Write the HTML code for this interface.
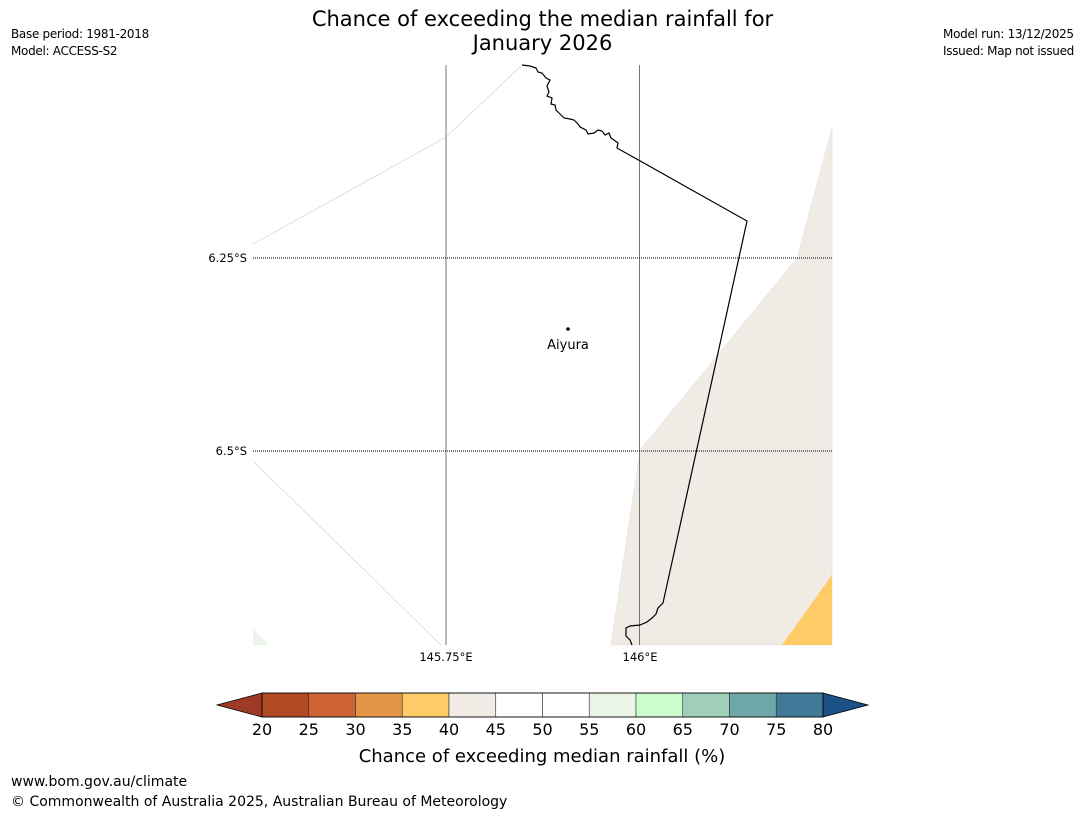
<!DOCTYPE html>
<html><head><meta charset="utf-8">
<style>
body{margin:0;background:#fff;width:1085px;height:816px;overflow:hidden;font-family:"Liberation Sans","DejaVu Sans",sans-serif;}
.t{position:absolute;white-space:nowrap;color:#000}
</style></head>
<body>
<div class="t" style="left:0;width:1085px;top:7px;text-align:center;font-size:21px;line-height:24px;font-family:'DejaVu Sans',sans-serif">Chance of exceeding the median rainfall for<br>January 2026</div>
<div class="t" style="left:11px;top:26px;font-size:12px;line-height:17px;letter-spacing:-0.3px;font-family:'DejaVu Sans',sans-serif">Base period: 1981-2018<br>Model: ACCESS-S2</div>
<div class="t" style="right:11px;top:26px;font-size:12px;line-height:17px;letter-spacing:-0.3px;font-family:'DejaVu Sans',sans-serif">Model run: 13/12/2025<br>Issued: Map not issued</div>
<svg width="1085" height="816" style="position:absolute;left:0;top:0">
<g>
<polygon points="832,128 797,258 640,450 611,645 832,645" fill="#f0ebe5" stroke="#ddd" stroke-width="0.5"/>
<polygon points="832,575 782,645 832,645" fill="#fecb67"/>
<polygon points="253,629 269,645 253,645" fill="#eaf5e8"/>
<polyline points="253,244 446,137 521,66" fill="none" stroke="#ccc" stroke-width="0.6"/>
<polyline points="253,461 441,645" fill="none" stroke="#ccc" stroke-width="0.6"/>
<line x1="446" y1="65" x2="446" y2="645" stroke="#777" stroke-width="1"/>
<line x1="639.5" y1="65" x2="639.5" y2="645" stroke="#777" stroke-width="1"/>
<line x1="253" y1="258" x2="832" y2="258" stroke="#000" stroke-width="1" stroke-dasharray="1,1"/>
<line x1="253" y1="451" x2="832" y2="451" stroke="#000" stroke-width="1" stroke-dasharray="1,1"/>
<polyline fill="none" stroke="#000" stroke-width="1.2" points="522,65 530,66 536,68 538,72 542,73 546,78 550,80 547,86 549,92 547,96 552,98 551,104 555,105 556,110 560,114 564,118 570,119 574,120 578,124 580,127 586,130 588,134 594,133 598,130 602,131 605,135 609,133 611,138 614,140 618,143 617,148 747,221 663,603 658,608 656,614 652,618 647,622 640,625 630,626 626,628 626,636 630,640 632,645"/>
<circle cx="568" cy="329" r="1.8" fill="#000"/>
<text x="568" y="349" text-anchor="middle" font-size="13" font-family="DejaVu Sans, sans-serif">Aiyura</text>
<text x="247" y="262" text-anchor="end" font-size="11.5" font-family="DejaVu Sans, sans-serif">6.25°S</text>
<text x="247" y="455" text-anchor="end" font-size="11.5" font-family="DejaVu Sans, sans-serif">6.5°S</text>
<text x="446" y="661" text-anchor="middle" font-size="11.5" font-family="DejaVu Sans, sans-serif">145.75°E</text>
<text x="640" y="661" text-anchor="middle" font-size="11.5" font-family="DejaVu Sans, sans-serif">146°E</text>
</g>
<g id="cbar"></g>
<text x="542" y="762" text-anchor="middle" font-size="18" font-family="DejaVu Sans, sans-serif">Chance of exceeding median rainfall (%)</text>
</svg>
<div class="t" style="left:11px;top:774px;font-size:14px;font-family:'DejaVu Sans',sans-serif">www.bom.gov.au/climate</div>
<div class="t" style="left:11px;top:794px;font-size:14px;font-family:'DejaVu Sans',sans-serif">© Commonwealth of Australia 2025, Australian Bureau of Meteorology</div>
<script>
const breaks=[20,25,30,35,40,45,50,55,60,65,70,75,80];
const tickLabels=["20","25","30","35","40","45","50","55","60","65","70","75","80"];
const binColors=["#b34a26","#cd6232","#e39646","#fecb67","#f0ebe5","#ffffff","#ffffff","#eaf5e8","#ccfccb","#9fcfb9","#6fa6a8","#417a99"];
const underColor="#9e3a24", overColor="#1a5287";
const NS="http://www.w3.org/2000/svg";
const g=document.getElementById('cbar');
const x0=262,x1=823,y0=693,y1=717;
function xs(v){return x0+(v-breaks[0])/(breaks[breaks.length-1]-breaks[0])*(x1-x0);}
function mk(t,a){const e=document.createElementNS(NS,t);for(const k in a)e.setAttribute(k,a[k]);g.appendChild(e);return e;}
let u=mk('polygon',{points:`${x0},${y0} ${x0},${y1} ${x0-45},${(y0+y1)/2}`,fill:underColor,stroke:"#000","stroke-width":0.8});


let o=mk('polygon',{points:`${x1},${y0} ${x1},${y1} ${x1+45},${(y0+y1)/2}`,fill:overColor,stroke:"#000","stroke-width":0.8});


for(let i=0;i<binColors.length;i++){
  const a=xs(breaks[i]),b=xs(breaks[i+1]);
  const r=mk('rect',{x:a,y:y0,width:b-a,height:y1-y0,fill:binColors[i],stroke:"#333","stroke-width":0.6});
  
  
}
mk('rect',{x:x0,y:y0,width:x1-x0,height:y1-y0,fill:"none",stroke:"#000","stroke-width":0.8});
for(let i=0;i<breaks.length;i++){
  const t=mk('text',{x:xs(breaks[i]),y:735,"text-anchor":"middle","font-size":16,"font-family":"DejaVu Sans, sans-serif"});
  t.textContent=tickLabels[i];
  
  
}
</script>
</body></html>
